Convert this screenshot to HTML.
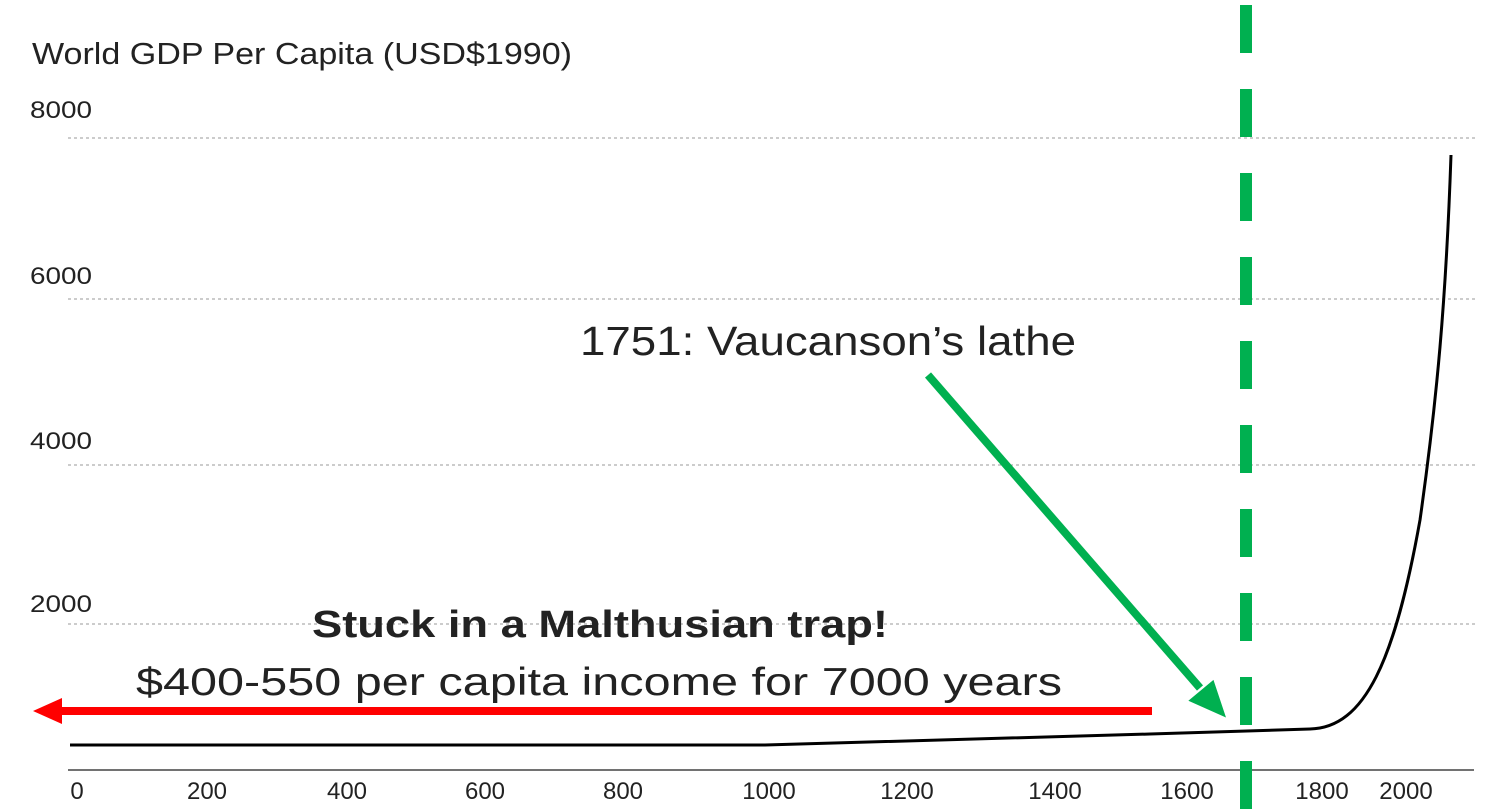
<!DOCTYPE html>
<html><head><style>
body{margin:0;background:#fff;}
svg{display:block;font-family:"Liberation Sans",sans-serif;}
</style></head><body>
<svg width="1495" height="809" viewBox="0 0 1495 809">
<text x="32" y="64" font-size="31" fill="#222" textLength="540" lengthAdjust="spacingAndGlyphs">World GDP Per Capita (USD$1990)</text>
<g font-size="24" fill="#222">
<text x="30" y="118" textLength="62" lengthAdjust="spacingAndGlyphs">8000</text><text x="30" y="284" textLength="62" lengthAdjust="spacingAndGlyphs">6000</text>
<text x="30" y="449" textLength="62" lengthAdjust="spacingAndGlyphs">4000</text><text x="30" y="612" textLength="62" lengthAdjust="spacingAndGlyphs">2000</text>
</g>
<g stroke="#999" stroke-width="1" stroke-dasharray="3,3">
<line x1="68" y1="138" x2="1475" y2="138"/><line x1="68" y1="299" x2="1475" y2="299"/>
<line x1="68" y1="465" x2="1475" y2="465"/><line x1="68" y1="624" x2="1475" y2="624"/>
</g>
<line x1="68" y1="770" x2="1474" y2="770" stroke="#444" stroke-width="1.5"/>
<g font-size="24" fill="#222" text-anchor="middle">
<text x="77" y="799">0</text><text x="207" y="799">200</text><text x="347" y="799">400</text>
<text x="485" y="799">600</text><text x="623" y="799">800</text><text x="769" y="799">1000</text>
<text x="907" y="799">1200</text><text x="1055" y="799">1400</text><text x="1187" y="799">1600</text>
<text x="1322" y="799">1800</text><text x="1406" y="799">2000</text>
</g>
<path d="M70 745 L500 745 L765 745 L1150 734 L1310 729 C1365 728 1395 660 1420 520 C1437 400 1446 300 1451 155" fill="none" stroke="#000" stroke-width="3"/>
<line x1="1246" y1="5" x2="1246" y2="809" stroke="#00b050" stroke-width="12" stroke-dasharray="48,36"/>
<line x1="928" y1="375" x2="1200" y2="688" stroke="#00b050" stroke-width="8"/>
<polygon points="1221,712 1194,700 1212,685" fill="#00b050" stroke="#00b050" stroke-width="6" stroke-linejoin="miter"/>
<line x1="1152" y1="711" x2="58" y2="711" stroke="#f00" stroke-width="8"/>
<polygon points="33,711 62,698 62,724" fill="#f00"/>
<text x="312" y="637" font-size="38" font-weight="bold" fill="#222" textLength="576" lengthAdjust="spacingAndGlyphs">Stuck in a Malthusian trap!</text>
<text x="136" y="695" font-size="39" fill="#222" textLength="926" lengthAdjust="spacingAndGlyphs">$400-550 per capita income for 7000 years</text>
<text x="580" y="355" font-size="41" fill="#222" textLength="496" lengthAdjust="spacingAndGlyphs">1751: Vaucanson’s lathe</text>
</svg>
</body></html>
